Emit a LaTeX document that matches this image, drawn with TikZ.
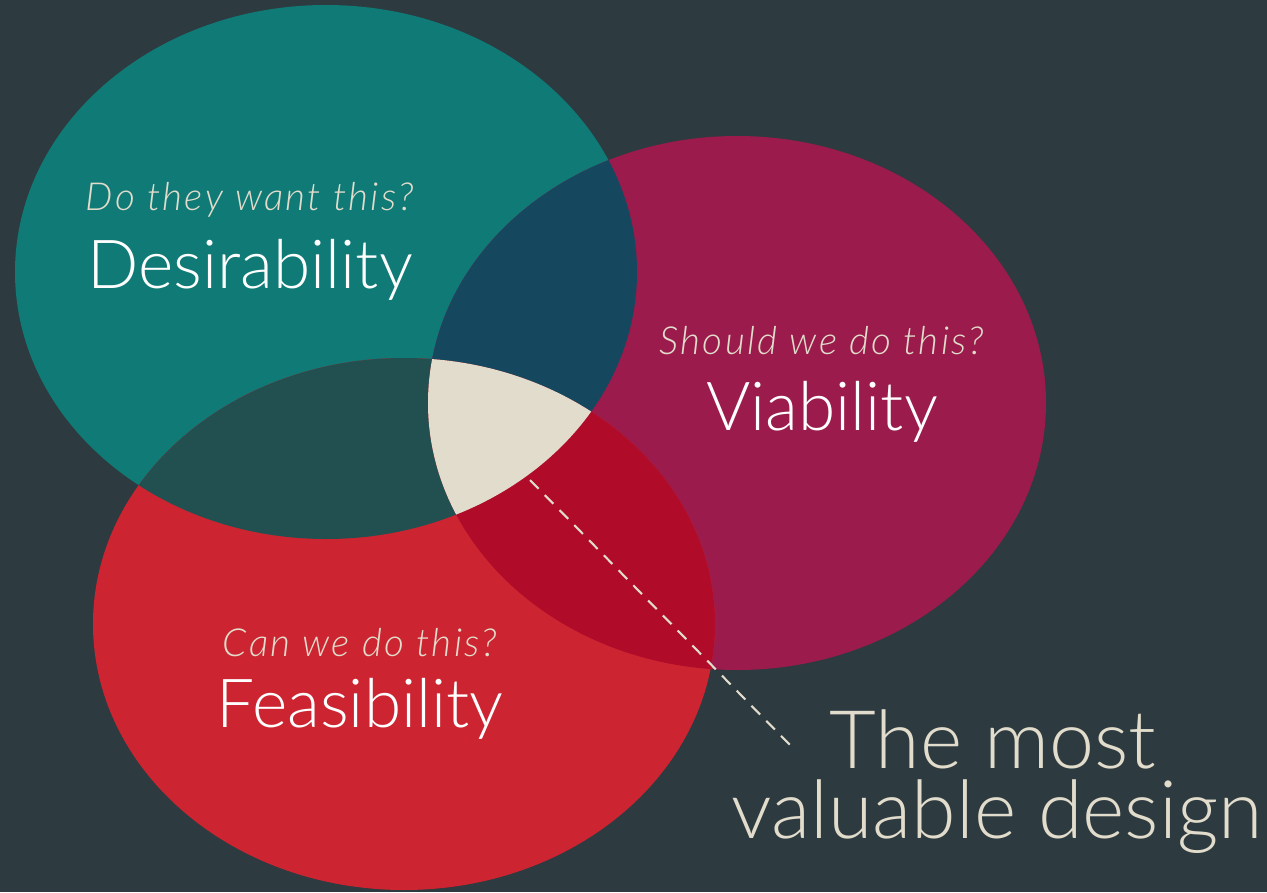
\documentclass[tikz,border=0pt]{standalone}
\usepackage{fontspec}
\setmainfont{Lato}[UprightFont=* Light, ItalicFont=* Light Italic]
\usetikzlibrary{positioning}

\definecolor{slate}{HTML}{2D3A40}
\definecolor{teal}{HTML}{0F7A76}
\definecolor{plum}{HTML}{9B1B4C}
\definecolor{scarlet}{HTML}{CC2531}
\definecolor{navy}{HTML}{15475E}
\definecolor{pine}{HTML}{224F50}
\definecolor{crimson}{HTML}{B00B28}
\definecolor{cream}{HTML}{E1DCCB}

\begin{document}
\begin{tikzpicture}[x=0.02cm, y=-0.02cm]
    \tikzset{
        question/.style = {anchor=base, inner sep=0pt, text=cream, font=\itshape\fontsize{22}{26}\selectfont\addfontfeature{LetterSpace=6}},
        title/.style = {anchor=base, inner sep=0pt, text=white, font=\fontsize{38.5}{46}\selectfont},
        result/.style = {anchor=base, inner sep=0pt, text=cream, font=\fontsize{46}{54}\selectfont},
        line/.style = {draw=cream, line width=1.2pt, dash pattern=on 7pt off 5pt},
    }

    % background
    \fill[slate] (0,0) rectangle (1267,892);
    \useasboundingbox (0,0) rectangle (1267,892);

    % the three circles
    \def\desire{(326,272) ellipse [x radius=311, y radius=267]}
    \def\viable{(737,403) ellipse [x radius=309, y radius=267]}
    \def\feasible{(404,624) ellipse [x radius=311, y radius=266]}

    \fill[teal] \desire;
    \fill[plum] \viable;
    \fill[scarlet] \feasible;

    % overlaps
    \begin{scope}
        \clip \desire;
        \fill[navy] \viable;
        \fill[pine] \feasible;
    \end{scope}
    \begin{scope}
        \clip \viable;
        \fill[crimson] \feasible;
    \end{scope}
    \begin{scope}
        \clip \desire;
        \clip \viable;
        \fill[cream] \feasible;
    \end{scope}

    % labels
    \node[question](qdesire) at (250,210) {Do they want this?};
    \node[title](desire) at (250,288) {Desirability};

    \node[question](qviable) at (822,354) {Should we do this?};
    \node[title](viable) at (822,430) {Viability};

    \node[question](qfeasible) at (360,656) {Can we do this?};
    \node[title](feasible) at (360,727) {Feasibility};

    \node[result](most) at (993,768) {The most};
    \node[result](valuable) at (997,838) {valuable design};

    % pointer to the centre
    \coordinate (centre) at (530,480);
    \coordinate (tip) at (790,745);
    \path [line] (centre) -- (tip);

\end{tikzpicture}
\end{document}
